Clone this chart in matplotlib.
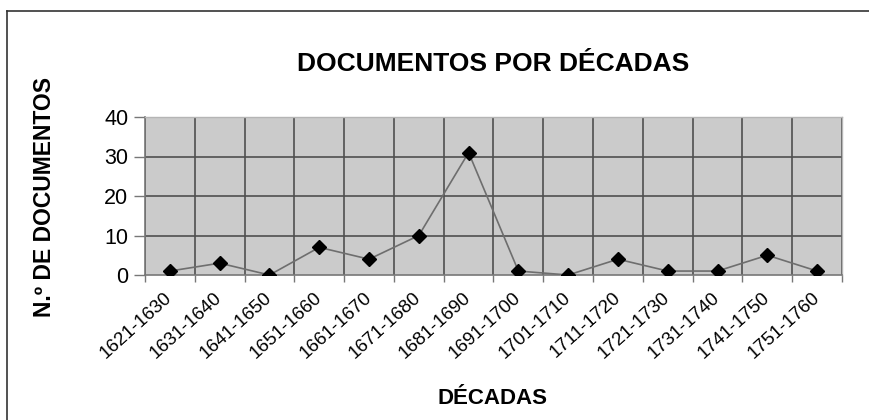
import matplotlib
matplotlib.use("Agg")
import matplotlib.pyplot as plt
import matplotlib.transforms as mtransforms
from matplotlib.lines import Line2D
import numpy as np

# --- Data ---
decadas = [
    "1621-1630", "1631-1640", "1641-1650", "1651-1660", "1661-1670",
    "1671-1680", "1681-1690", "1691-1700", "1701-1710", "1711-1720",
    "1721-1730", "1731-1740", "1741-1750", "1751-1760",
]
documentos = [1, 3, 0, 7, 4, 10, 31, 1, 0, 4, 1, 1, 5, 1]
y_ticks = [0, 10, 20, 30, 40]

plt.rcParams["font.family"] = ["Liberation Sans", "DejaVu Sans"]

fig = plt.figure(figsize=(8.7, 4.2), dpi=100)
ax = fig.add_axes([145 / 870, 1 - 275 / 420, (842 - 145) / 870, (275 - 117) / 420])

x = np.arange(len(decadas))
ax.set_facecolor("#cbcbcb")
ax.plot(x, documentos, color="#6e6e6e", lw=1.2, zorder=3)
ax.plot(x, documentos, ls="none", marker="D", ms=7, color="black", zorder=4)

ax.set_xlim(-0.5, len(decadas) - 0.5)
ax.set_ylim(0, 40)
ax.set_yticks(y_ticks)
ax.set_xticks(x)
ax.set_xticklabels(decadas, rotation=42, ha="right", va="center",
                   rotation_mode="anchor", fontsize=13.5)
# shift tick labels a little to the left, like the original
shift = mtransforms.ScaledTranslation(-6 / 100, 0, fig.dpi_scale_trans)
for lbl in ax.get_xticklabels():
    lbl.set_transform(lbl.get_transform() + shift)
ax.set_xticks(np.arange(len(decadas) + 1) - 0.5, minor=True)
ax.tick_params(axis="x", which="major", length=0, pad=15)
ax.tick_params(axis="x", which="minor", length=5, color="#777777", width=1)
ax.tick_params(axis="y", length=8, color="#777777", width=1, labelsize=15.5, pad=4)

ax.grid(True, axis="x", which="minor", color="#505050", lw=1.2, zorder=1)
for v in y_ticks[1:-1]:
    ax.axhline(v, color="#505050", lw=1.2, zorder=1)
ax.set_axisbelow(True)

for side in ("left", "bottom"):
    ax.spines[side].set_color("#777777")
    ax.spines[side].set_linewidth(1.2)
for side in ("top", "right"):
    ax.spines[side].set_color("#b5b5b5")
    ax.spines[side].set_linewidth(1.0)

fig.text(493 / 870, 1 - 64 / 420, "DOCUMENTOS POR DÉCADAS", ha="center", va="center",
         fontsize=19, fontweight="bold")
fig.text(493 / 870, 1 - 399 / 420, "DÉCADAS", ha="center", va="center",
         fontsize=16, fontweight="bold")
fig.text(45 / 870, 1 - 197 / 420, "N.º DE DOCUMENTOS", ha="center", va="center",
         rotation=90, fontsize=16.5, fontweight="bold")

# outer frame (left and top edges visible)
fig.add_artist(Line2D([7 / 870, 7 / 870], [0, 1 - 11 / 420], color="#333333", lw=1.2))
fig.add_artist(Line2D([7 / 870, 1], [1 - 11 / 420, 1 - 11 / 420], color="#333333", lw=1.2))

fig.savefig("out.png", dpi=100)
